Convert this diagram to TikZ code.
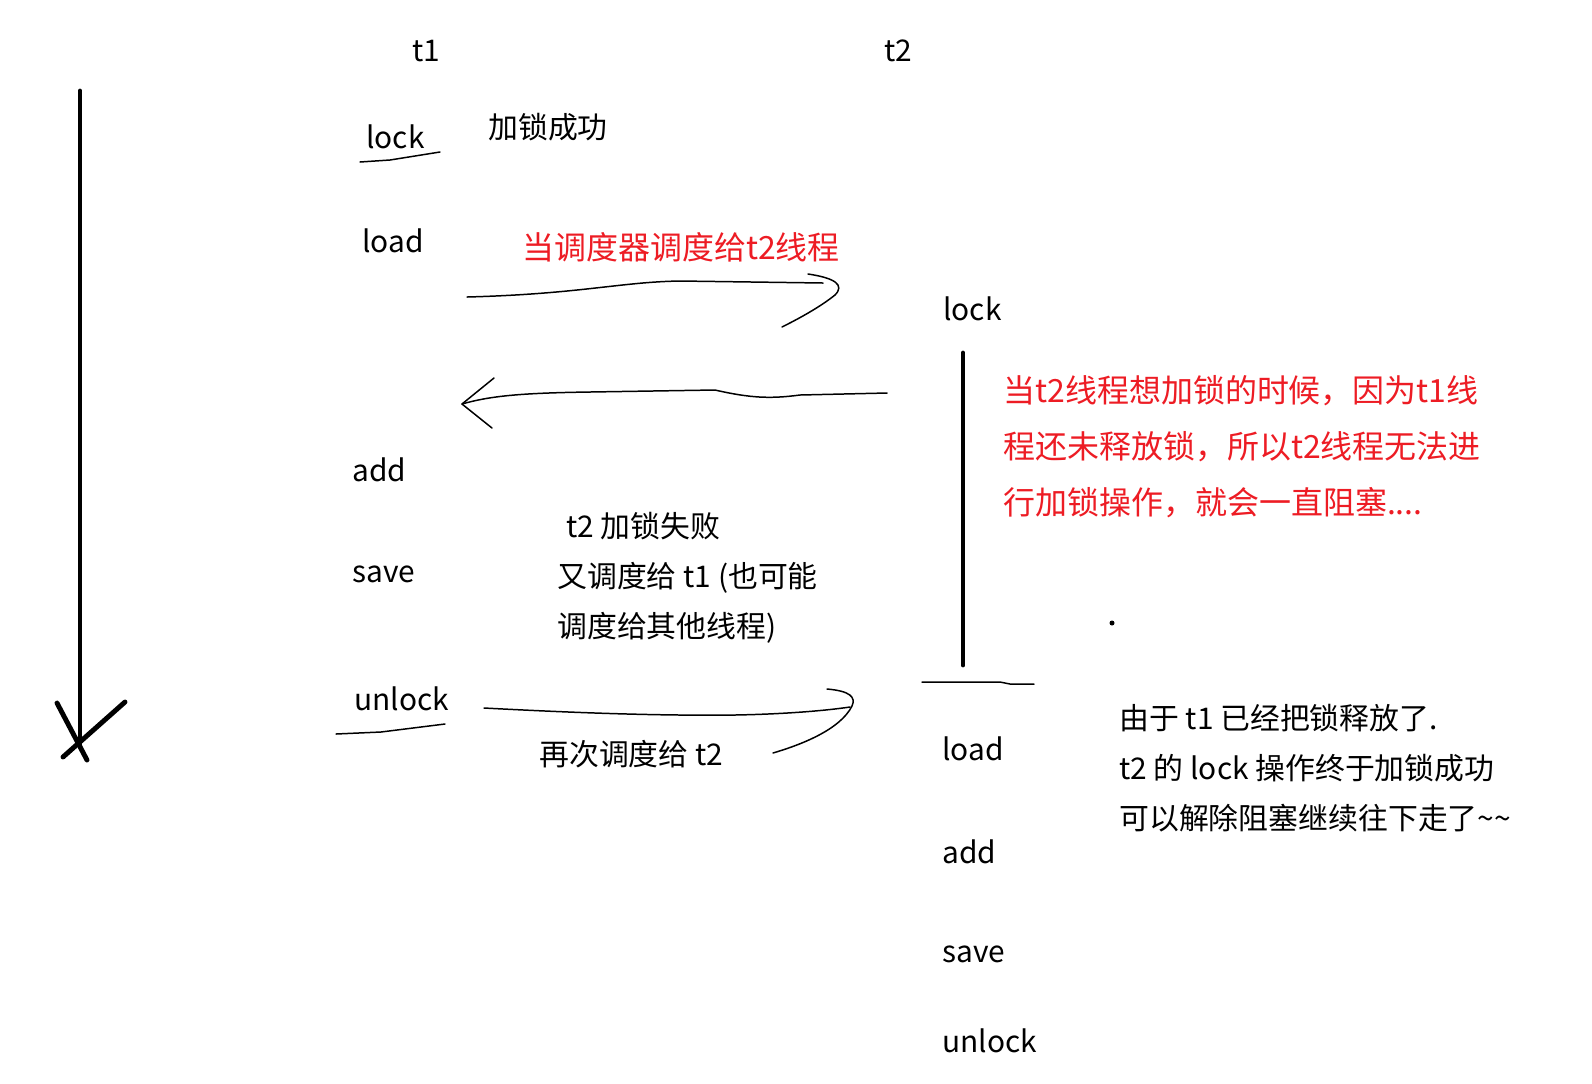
\documentclass[tikz,border=0pt]{standalone}
\usepackage{fontspec}
\setmainfont{Noto Sans CJK SC}
\usepackage{xcolor}
\usetikzlibrary{positioning}
\definecolor{paintred}{RGB}{237,28,36}
\tikzset{
  op/.style={anchor=west, inner sep=0pt, font=\fontsize{17}{20}\selectfont},
  note/.style={op, align=left, font=\fontsize{17}{28.5}\selectfont},
  redop/.style={op, text=paintred, font=\fontsize{18.2}{20}\selectfont},
  rednote/.style={note, text=paintred, font=\fontsize{18.2}{31.9}\selectfont},
  hand/.style={draw, line width=0.85pt, line cap=round, line join=round},
  heavy/.style={draw, line width=2.8pt, line cap=round},
}

\begin{document}
\begin{tikzpicture}[x=0.02cm, y=-0.02cm]
  \useasboundingbox (0,0) rectangle (1592,1083);

  % Zeitachse
  \coordinate (tstart) at (80,91);
  \coordinate (tend)   at (80,747);
  \draw[heavy] (tstart) -- (tend);
  \draw[heavy] (57,703) -- (87,760);
  \draw[heavy] (125,702) -- (63,757);

  % Threads
  \node[op, anchor=center] (t1) at (426,51) {t1};
  \node[op, anchor=center] (t2) at (898,51) {t2};

  % t1
  \node[op] (lockA)   at (366,137) {lock};
  \node[op] (loadA)   at (362,241) {load};
  \node[op] (addA)    at (352,470) {add};
  \node[op] (saveA)   at (352,574) {save};
  \node[op] (unlockA) at (354,699) {unlock};
  \draw[hand] (360,162) -- (390,160) -- (440,152);
  \draw[hand] (336,734) -- (381,732) -- (445,724);

  \node[op] (okA) at (488,127) {加锁成功};
  \node[redop] (switch1) at (522,247) {当调度器调度给t2线程};
  \node[note] (failA) at (557,578)
    {\hspace{0.18cm}t2 加锁失败\\又调度给 t1 (也可能\\调度给其他线程)};
  \node[op] (switch2) at (539,754) {再次调度给 t2};

  % t2
  \node[op] (lockB)   at (943,309) {lock};
  \node[op] (loadB)   at (942,749) {load};
  \node[op] (addB)    at (942,852) {add};
  \node[op] (saveB)   at (942,954) {save};
  \node[op] (unlockB) at (942,1041) {unlock};

  % Blockade von t2
  \coordinate (wait0) at (963,353);
  \coordinate (wait1) at (963,665);
  \draw[heavy] (wait0) -- (wait1);
  \draw[hand] (922,682) -- (1000,682) -- (1010,684) -- (1034,684);
  \fill (1112,623) circle (2.5);

  \node[rednote] (blockB) at (1003,447)
    {当t2线程想加锁的时候，因为t1线\\程还未释放锁，所以t2线程无法进\\行加锁操作，就会一直阻塞....};
  \node[note] (freeB) at (1119,768)
    {由于 t1 已经把锁释放了.\\t2 的 lock 操作终于加锁成功\\可以解除阻塞继续往下走了\textasciitilde\textasciitilde};

  % Umschaltung t1 -> t2
  \coordinate (go1)  at (467,297);
  \coordinate (hit1) at (823,283);
  \draw[hand] (go1) .. controls (580,294) and (620,282) .. (680,281) -- (hit1);
  \draw[hand] (808,274) .. controls (835,278) and (845,285) .. (835,295)
    .. controls (820,307) and (800,318) .. (782,327);

  % Umschaltung t2 -> t1
  \coordinate (back0) at (887,393);
  \coordinate (back1) at (462,404);
  \draw[hand] (back0) -- (800,395) .. controls (770,399) and (750,398) .. (715,390)
    -- (590,392) .. controls (520,393) and (490,396) .. (back1);
  \draw[hand] (494,378) -- (back1) -- (492,428);

  % erneut zu t2
  \coordinate (go2)  at (484,708);
  \coordinate (hit2) at (850,707);
  \draw[hand] (go2) .. controls (560,712) and (650,716) .. (735,715)
    .. controls (790,714) and (830,710) .. (hit2);
  \draw[hand] (827,689) .. controls (850,691) and (856,697) .. (852,706)
    .. controls (840,730) and (800,745) .. (773,753);
\end{tikzpicture}
\end{document}
